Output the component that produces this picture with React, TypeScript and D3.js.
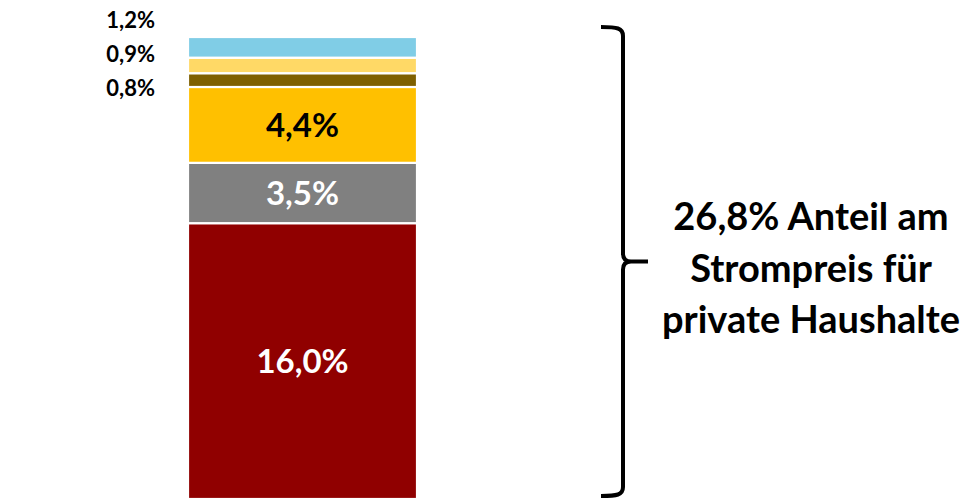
import { useEffect, useRef } from "react";
import * as d3 from "d3";

// stacked from bottom to top
const components = ["Netzentgelt", "Umlagen", "Stromsteuer", "Offshore", "KWK", "Konzession"];
const shares = [16.0, 3.5, 4.4, 0.8, 0.9, 1.2];
const colors = ["#900000", "#808080", "#FFC000", "#7F6000", "#FFD966", "#80CDE6"];
const insideLabel = [true, true, true, false, false, false];
const labelColors = ["#ffffff", "#ffffff", "#000000", "#000000", "#000000", "#000000"];
const summaryLines = ["26,8% Anteil am", "Strompreis für", "private Haushalte"];

const W = 979;
const H = 498;
const FONT = "Lato, Carlito, 'Open Sans', sans-serif";

const fmt = (v: number) => v.toFixed(1).replace(".", ",") + "%";

export default function App() {
  const svgRef = useRef<SVGSVGElement | null>(null);

  useEffect(() => {
    const svg = d3.select(svgRef.current);
    svg.selectAll("*").remove();

    const total = d3.sum(shares);
    const tops = Array.from(d3.cumsum(shares));
    const bottoms = tops.map((t, i) => t - shares[i]);

    const y = d3.scaleLinear().domain([0, total]).range([499, 37]);
    const x = d3.scaleBand().domain(["Strompreis"]).range([188, 417]).padding(0);
    const bx = x("Strompreis") as number;
    const bw = x.bandwidth();

    const g = svg.append("g");

    // 1. segments
    g.selectAll("rect")
      .data(components)
      .join("rect")
      .attr("x", bx)
      .attr("width", bw)
      .attr("y", (_, i) => y(tops[i]))
      .attr("height", (_, i) => y(bottoms[i]) - y(tops[i]))
      .attr("fill", (_, i) => colors[i])
      .attr("stroke", "#fff")
      .attr("stroke-width", 2.2);

    // 2. labels inside the big segments
    g.selectAll("text.inside")
      .data(components.filter((_, i) => insideLabel[i]))
      .join("text")
      .attr("class", "inside")
      .attr("x", bx + bw / 2)
      .attr("y", (d) => {
        const i = components.indexOf(d);
        return (y(tops[i]) + y(bottoms[i])) / 2;
      })
      .attr("dy", "0.36em")
      .attr("text-anchor", "middle")
      .attr("font-family", FONT)
      .attr("font-weight", 700)
      .attr("font-size", 33)
      .attr("fill", (d) => labelColors[components.indexOf(d)])
      .text((d) => fmt(shares[components.indexOf(d)]));

    // 3. small labels on the left for the thin segments (spread out)
    const smallY = [95.5, 62, 27.5];
    const small = components.map((_, i) => i).filter((i) => !insideLabel[i]);
    g.selectAll("text.outside")
      .data(small)
      .join("text")
      .attr("class", "outside")
      .attr("x", 155)
      .attr("y", (_, k) => smallY[k])
      .attr("text-anchor", "end")
      .attr("font-family", FONT)
      .attr("font-weight", 700)
      .attr("font-size", 22)
      .attr("fill", "#000")
      .text((i) => fmt(shares[i]));

    // 4. curly brace
    const top = y(total) - 10;
    const bot = y(0) - 3;
    const mid = (top + bot) / 2;
    const bxL = 601;
    const bxV = 623;
    const tip = 648;
    const p = d3.path();
    p.moveTo(bxL, top);
    p.bezierCurveTo(bxL + 16, top, bxV, top + 1, bxV, top + 9);
    p.lineTo(bxV, mid - 8);
    p.quadraticCurveTo(bxV, mid, bxV + 8, mid);
    p.lineTo(tip, mid);
    p.moveTo(bxV + 8, mid);
    p.quadraticCurveTo(bxV, mid, bxV, mid + 8);
    p.lineTo(bxV, bot - 9);
    p.bezierCurveTo(bxV, bot - 1, bxL + 16, bot, bxL, bot);
    svg
      .append("path")
      .attr("d", p.toString())
      .attr("fill", "none")
      .attr("stroke", "#000")
      .attr("stroke-width", 4);

    // 5. summary text
    svg
      .append("g")
      .selectAll("text")
      .data(summaryLines)
      .join("text")
      .attr("x", 811)
      .attr("y", (_, i) => 230 + i * 51.5)
      .attr("text-anchor", "middle")
      .attr("font-family", FONT)
      .attr("font-weight", 700)
      .attr("font-size", 38)
      .attr("fill", "#000")
      .text((d) => d);
  }, []);

  return (
    <div style={{ position: "absolute", top: 0, left: 0, width: W, height: H, background: "#fff" }}>
      <svg ref={svgRef} width={W} height={H} style={{ display: "block" }} />
    </div>
  );
}
